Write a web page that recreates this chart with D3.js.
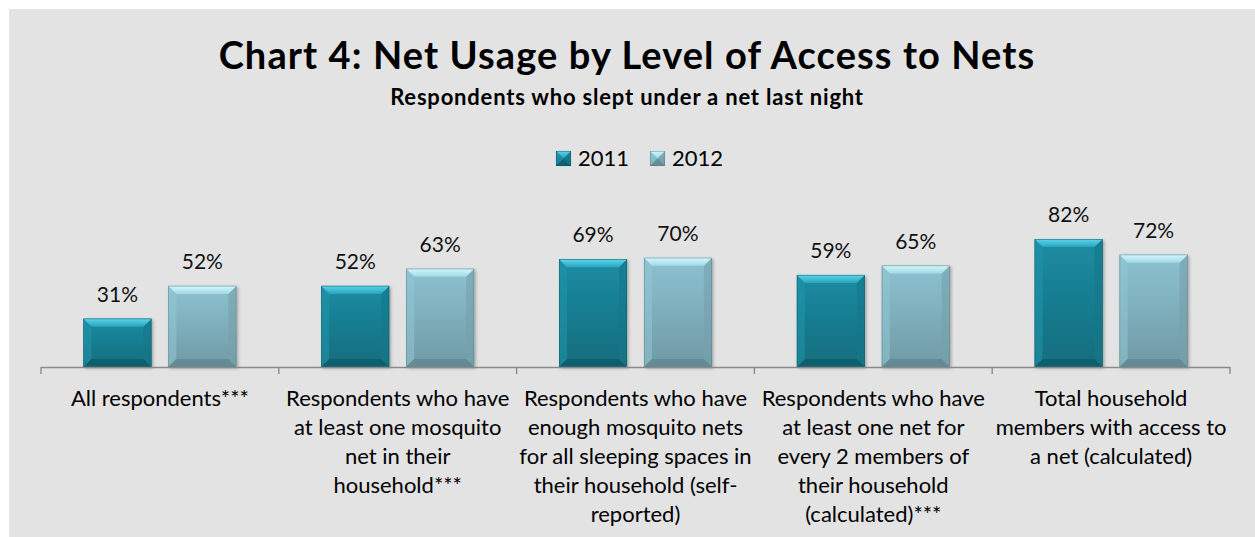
<!DOCTYPE html>
<html>
<head>
<meta charset="utf-8">
<script src="https://cdn.jsdelivr.net/npm/d3@7"></script>
<style>
  body { margin: 0; background: #ffffff; }
  svg { display: block; font-family: Lato, "Open Sans", "Noto Sans", sans-serif; }
</style>
</head>
<body>
<svg id="chart" width="1255" height="537"></svg>
<script>
// ---- data ----
const categories = [
  "All respondents***",
  "Respondents who have\nat least one mosquito\nnet in their\nhousehold***",
  "Respondents who have\nenough mosquito nets\nfor all sleeping spaces in\ntheir household (self-\nreported)",
  "Respondents who have\nat least one net for\nevery 2 members of\ntheir household\n(calculated)***",
  "Total household\nmembers with access to\na net (calculated)"
];
const seriesNames = ["2011", "2012"];
const values2011 = [31, 52, 69, 59, 82];
const values2012 = [52, 63, 70, 65, 72];
const titleText = "Chart 4: Net Usage by Level of Access to Nets";
const subtitleText = "Respondents who slept under a net last night";

// ---- styling per series ----
const palette = {
  "2011": { faceTop: "#1b8ca3", faceBot: "#156d7d", bevTop: "#5ad6ee", bevTopEnd: "#2aa3bb",
            bevBot: "#0f5b69", right: "#14778a", left: "#1f95ac", stroke: "#0e5866" },
  "2012": { faceTop: "#8dc2d1", faceBot: "#6f9aa5", bevTop: "#d2f8fe", bevTopEnd: "#a2d8e4",
            bevBot: "#5e858f", right: "#76a0ab", left: "#92c6d4", stroke: "#5b7f88" }
};

const W = 1255, H = 537;
const svg = d3.select("#chart");
const defs = svg.append("defs");

// background panel
svg.append("rect").attr("x", 9).attr("y", 9).attr("width", W - 9).attr("height", H - 9)
  .attr("fill", "#e3e3e3");

// soft shadow for bars
const shadow = defs.append("filter").attr("id", "barShadow")
  .attr("x", "-20%").attr("y", "-20%").attr("width", "150%").attr("height", "150%");
shadow.append("feDropShadow").attr("dx", 1.5).attr("dy", 1.5).attr("stdDeviation", 1.6)
  .attr("flood-color", "#000").attr("flood-opacity", 0.28);

// gradients per series
seriesNames.forEach(s => {
  const p = palette[s];
  const gFace = defs.append("linearGradient").attr("id", "face" + s)
    .attr("x1", 0).attr("y1", 0).attr("x2", 0).attr("y2", 1);
  gFace.append("stop").attr("offset", "0%").attr("stop-color", p.faceTop);
  gFace.append("stop").attr("offset", "100%").attr("stop-color", p.faceBot);
  const gTop = defs.append("linearGradient").attr("id", "top" + s)
    .attr("x1", 0).attr("y1", 0).attr("x2", 0).attr("y2", 1);
  gTop.append("stop").attr("offset", "0%").attr("stop-color", p.bevTop);
  gTop.append("stop").attr("offset", "100%").attr("stop-color", p.bevTopEnd);
});

// ---- scales ----
const x0 = d3.scaleBand().domain(categories).range([41, 1230]).padding(0);
const x1 = d3.scaleBand().domain(seriesNames).range([0, x0.bandwidth()])
  .paddingInner(0.2).paddingOuter(0.5);
const y = d3.scaleLinear().domain([0, 100]).range([367, 211]);

// draw a bevelled box (picture-frame style) into a selection
function bevelBox(g, x, yTop, w, h, s, b) {
  const p = palette[s];
  b = Math.min(b, h / 2, w / 2);
  const line = pts => "M" + pts.map(q => q.join(",")).join("L") + "Z";
  const yb = yTop + h, xr = x + w;
  g.append("rect").attr("x", x).attr("y", yTop).attr("width", w).attr("height", h)
    .attr("fill", `url(#face${s})`);
  g.append("path").attr("d", line([[x, yTop], [x + b, yTop + b], [x + b, yb - b], [x, yb]]))
    .attr("fill", p.left).attr("opacity", 0.55);
  g.append("path").attr("d", line([[xr, yTop], [xr - b, yTop + b], [xr - b, yb - b], [xr, yb]]))
    .attr("fill", p.right).attr("opacity", 0.6);
  g.append("path").attr("d", line([[x, yb], [xr, yb], [xr - b, yb - b], [x + b, yb - b]]))
    .attr("fill", p.bevBot).attr("opacity", 0.75);
  g.append("path").attr("d", line([[x, yTop], [xr, yTop], [xr - b, yTop + b], [x + b, yTop + b]]))
    .attr("fill", `url(#top${s})`);
  g.append("rect").attr("x", x + 0.25).attr("y", yTop + 0.25).attr("width", w - 0.5).attr("height", h - 0.5)
    .attr("fill", "none").attr("stroke", p.stroke).attr("stroke-width", 0.6).attr("opacity", 0.8);
}

// ---- title ----
svg.append("text").attr("x", 627).attr("y", 69).attr("text-anchor", "middle")
  .attr("font-weight", "bold").attr("font-size", 38).attr("letter-spacing", 1.1)
  .attr("fill", "#000").text(titleText);
svg.append("text").attr("x", 627).attr("y", 105).attr("text-anchor", "middle")
  .attr("font-weight", "bold").attr("font-size", 22).attr("letter-spacing", 0.8)
  .attr("fill", "#000").text(subtitleText);

// ---- legend ----
const legend = svg.append("g").attr("transform", "translate(556,151)");
const legendItems = legend.selectAll("g.item").data(seriesNames).join("g")
  .attr("class", "item").attr("transform", (d, i) => `translate(${i * 94},0)`);
legendItems.each(function (d) { bevelBox(d3.select(this), 0, 0, 15, 15, d, 7); });
legendItems.append("text").attr("x", 22).attr("y", 15).attr("font-size", 22)
  .attr("fill", "#000").text(d => d);

// ---- bars ----
const rows = categories.map((c, i) => ({ cat: c, vals: [values2011[i], values2012[i]] }));
const groups = svg.append("g").selectAll("g.cat").data(rows).join("g")
  .attr("class", "cat").attr("transform", d => `translate(${x0(d.cat)},0)`);

groups.each(function (d) {
  const g = d3.select(this);
  seriesNames.forEach((s, j) => {
    const v = d.vals[j];
    const bx = x1(s), top = y(v), h = y(0) - y(v);
    const bar = g.append("g").attr("filter", "url(#barShadow)");
    bevelBox(bar, bx, top, x1.bandwidth(), h, s, 8);
    g.append("text").attr("x", bx + x1.bandwidth() / 2).attr("y", top - 17)
      .attr("text-anchor", "middle").attr("font-size", 21).attr("fill", "#111")
      .text(v + "%");
  });
});

// ---- category axis ----
const axis = svg.append("g");
axis.append("line").attr("x1", x0.range()[0]).attr("x2", x0.range()[1])
  .attr("y1", y(0) + 0.5).attr("y2", y(0) + 0.5)
  .attr("stroke", "#8a8a8a").attr("stroke-width", 1.6);
const edges = categories.map(c => x0(c)).concat([x0.range()[1]]);
axis.selectAll("line.tick").data(edges).join("line").attr("class", "tick")
  .attr("x1", d => d).attr("x2", d => d).attr("y1", y(0)).attr("y2", y(0) + 7)
  .attr("stroke", "#8a8a8a").attr("stroke-width", 1.4);

const labels = axis.selectAll("text.cat").data(categories).join("text").attr("class", "cat")
  .attr("text-anchor", "middle").attr("font-size", 22).attr("fill", "#000")
  .attr("transform", d => `translate(${x0(d) + x0.bandwidth() / 2},406)`);
labels.selectAll("tspan").data(d => d.split("\n")).join("tspan")
  .attr("x", 0).attr("y", (d, i) => i * 29).text(d => d);
</script>
</body>
</html>
